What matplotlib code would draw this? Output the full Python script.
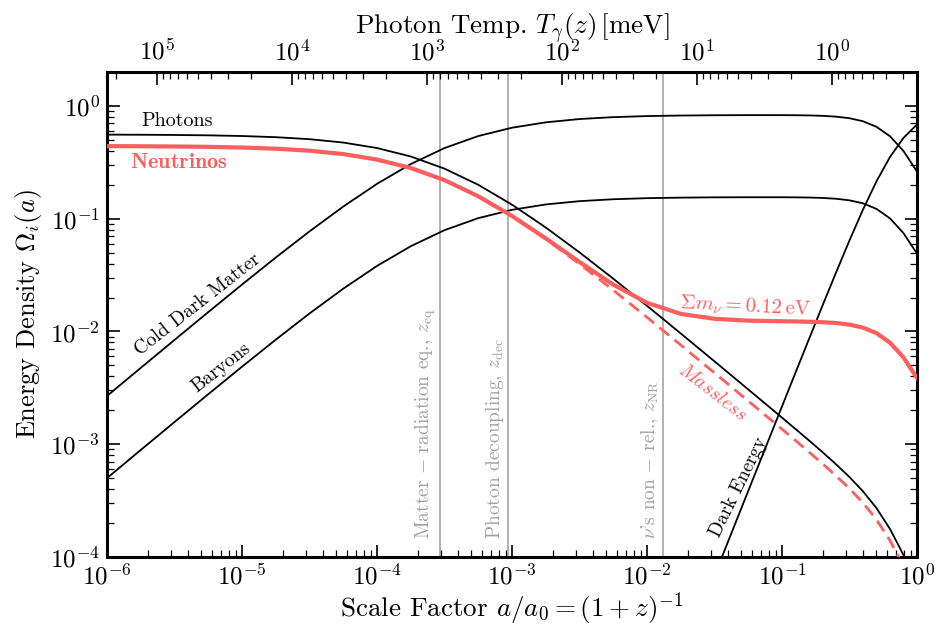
import numpy as np
import matplotlib.pyplot as plt

plt.rcParams['font.family'] = 'serif'
plt.rcParams['font.serif'] = ['cmr10']
plt.rcParams['mathtext.fontset'] = 'cm'
plt.rcParams['axes.formatter.use_mathtext'] = True

# scale factor grid and density fractions
scale_factor = [1e-6, 1.778e-6, 3.162e-6, 5.623e-6, 1e-5, 1.778e-5, 3.162e-5, 5.623e-5,
                1e-4, 1.778e-4, 3.162e-4, 5.623e-4, 1e-3, 1.778e-3, 3.162e-3, 5.623e-3,
                0.01, 0.01778, 0.03162, 0.05623, 0.1, 0.1259, 0.1585, 0.1995, 0.2512,
                0.3162, 0.3981, 0.5012, 0.631, 0.7943, 1.0]

omega_photons = [0.5567, 0.5554, 0.5529, 0.5487, 0.5412, 0.5285, 0.5073, 0.4735,
                 0.4233, 0.3563, 0.2779, 0.1998, 0.1331, 0.08357, 0.05025, 0.02938,
                 0.01688, 9.60e-3, 5.43e-3, 3.06e-3, 1.721e-3, 1.364e-3, 1.080e-3, 8.51e-4, 6.64e-4,
                 5.11e-4, 3.82e-4, 2.71e-4, 1.77e-4, 1.04e-4, 5.44e-5]

omega_nu = [0.4401, 0.4390, 0.4371, 0.4337, 0.4278, 0.4178, 0.4010, 0.3743,
            0.3346, 0.2816, 0.2198, 0.1581, 0.1057, 0.0669, 0.0413, 0.02603,
            0.01795, 0.01432, 0.01295, 0.01248, 0.01232, 0.01227, 0.01220, 0.01209, 0.01189,
            0.01150, 0.01081, 0.00965, 0.00795, 0.00588, 0.00387]

omega_nu_massless = [0.4401, 0.4390, 0.4371, 0.4337, 0.4278, 0.4178, 0.4010, 0.3743,
                     0.3346, 0.2816, 0.2197, 0.1579, 0.1052, 0.06606, 0.03972, 0.02323,
                     0.01335, 7.59e-3, 4.29e-3, 2.42e-3, 1.360e-3, 1.079e-3, 8.53e-4, 6.72e-4, 5.25e-4,
                     4.04e-4, 3.02e-4, 2.14e-4, 1.40e-4, 8.22e-5, 4.30e-5]

omega_cdm = [2.681e-3, 4.756e-3, 8.421e-3, 0.01486, 0.02607, 0.04525, 0.07726, 0.1282,
             0.2039, 0.3050, 0.4232, 0.5410, 0.6413, 0.7156, 0.7654, 0.7957,
             0.8131, 0.8222, 0.8270, 0.8290, 0.8288, 0.8273, 0.8240, 0.8172, 0.8038,
             0.7781, 0.7314, 0.6530, 0.5380, 0.3980, 0.2620]

omega_baryons = [5.01e-4, 8.90e-4, 1.575e-3, 2.779e-3, 4.875e-3, 8.46e-3, 0.01445, 0.02398,
                 0.03813, 0.05705, 0.07915, 0.1012, 0.1199, 0.1338, 0.1431, 0.1488,
                 0.1521, 0.1538, 0.1547, 0.1550, 0.1550, 0.1547, 0.1541, 0.1528, 0.1503,
                 0.1455, 0.1368, 0.1221, 0.1006, 0.0744, 0.0490]

a_late = [0.01778, 0.03162, 0.05623, 0.1, 0.1259, 0.1585, 0.1995, 0.2512,
          0.3162, 0.3981, 0.5012, 0.631, 0.7943, 1.0]
omega_de = [1.21e-5, 6.84e-5, 3.86e-4, 2.167e-3, 4.32e-3, 8.58e-3, 0.01698, 0.03331,
            0.06434, 0.1207, 0.2150, 0.3533, 0.5216, 0.6851]

# epochs marked with vertical lines
epoch_a = [2.95e-4, 9.38e-4, 1.324e-2]
epoch_labels = [r'Matter $-$ radiation eq., $z_{\rm eq}$',
                r'Photon decoupling, $z_{\rm dec}$',
                r"$\nu$'s non $-$ rel., $z_{\rm NR}$"]

T0 = 0.2349  # photon temperature today in meV

red = '#ff5e5e'
grey = '#a0a0a0'

fig = plt.figure(figsize=(9.39, 6.25), dpi=100)
ax = fig.add_axes([0.114, 0.1088, 0.8626, 0.776])

for a_ep, lab in zip(epoch_a, epoch_labels):
    ax.axvline(a_ep, color='#ababab', lw=1.3, zorder=0)
    ax.text(a_ep * 0.965, 1.45e-4, lab, rotation=90, ha='right', va='bottom',
            color=grey, fontsize=14)

ax.plot(scale_factor, omega_photons, color='k', lw=1.3)
ax.plot(scale_factor, omega_cdm, color='k', lw=1.3)
ax.plot(scale_factor, omega_baryons, color='k', lw=1.3)
ax.plot(a_late, omega_de, color='k', lw=1.3)
ax.plot(scale_factor, omega_nu_massless, color=red, lw=2, ls=(0, (4.5, 2.5)), zorder=3)
ax.plot(scale_factor, omega_nu, color=red, lw=3, zorder=4)

ax.set_xscale('log')
ax.set_yscale('log')
ax.set_xlim(1e-6, 1)
ax.set_ylim(1e-4, 2)

ax.text(3.3e-6, 0.735, 'Photons', fontsize=14.5, ha='center', va='center')
ax.text(3.4e-6, 0.318, r'$\mathbf{Neutrinos}$', fontsize=16, color=red, ha='center', va='center')
ax.text(4.7e-6, 0.0172, 'Cold Dark Matter', fontsize=14, rotation=38, ha='center', va='center')
ax.text(7.0e-6, 4.8e-3, 'Baryons', fontsize=14, rotation=38, ha='center', va='center')
ax.text(0.0475, 4.2e-4, 'Dark Energy', fontsize=14, rotation=64, ha='center', va='center')
ax.text(0.0305, 2.9e-3, r'$\mathit{Massless}$', fontsize=14, rotation=-38, color=red,
        ha='center', va='center')
ax.text(0.0536, 0.0167, r'$\mathit{\Sigma} m_\nu = 0.12\,\mathrm{eV}$', fontsize=15, rotation=-3,
        color=red, ha='center', va='center')

ax.set_xlabel(r'Scale Factor $a/a_0 = (1+z)^{-1}$', fontsize=19.5, labelpad=0)
ax.set_ylabel(r'Energy Density $\Omega_i(a)$', fontsize=19, labelpad=4)

for s in ax.spines.values():
    s.set_linewidth(2.2)
ax.tick_params(which='both', direction='in', top=False, right=True, labelsize=18)
ax.tick_params(which='major', length=9, width=1.2, pad=5)
ax.tick_params(which='minor', length=5, width=0.9)


def a_to_T(a):
    a = np.asarray(a, dtype=float)
    with np.errstate(divide='ignore'):
        return T0 / a


sec = ax.secondary_xaxis('top', functions=(a_to_T, a_to_T))
sec.tick_params(which='both', direction='in', labelsize=18)
sec.tick_params(which='major', length=9, width=1.2, pad=5)
sec.tick_params(which='minor', length=5, width=0.9)
sec.set_xlabel(r'Photon Temp. $T_\gamma(z)\,[\mathrm{meV}]$', fontsize=19.5, labelpad=3)

fig.savefig('out.png', dpi=100)
